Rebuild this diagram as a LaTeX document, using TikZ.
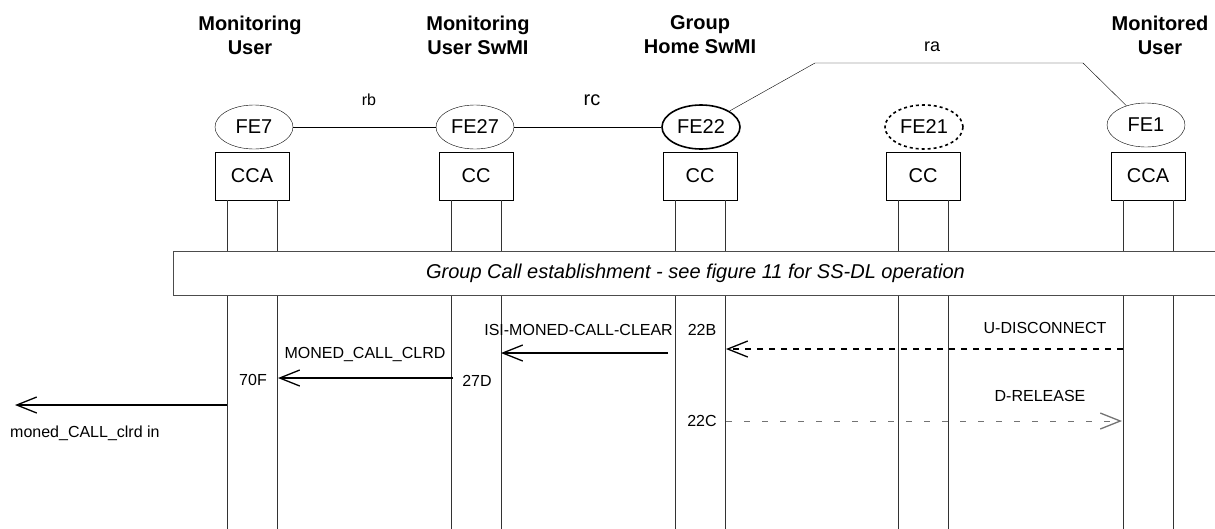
\documentclass[tikz,border=0pt]{standalone}
\usepackage{fontspec}
\setmainfont{Liberation Sans}
\usetikzlibrary{arrows.meta,shapes.geometric}

\tikzset{
	fe/.style={draw, ellipse, minimum width=78pt, minimum height=44pt, inner sep=0pt, font=\fontsize{20}{24}\selectfont},
	fa/.style={draw, minimum width=74pt, minimum height=48pt, inner sep=0pt, font=\fontsize{20}{24}\selectfont},
	head/.style={align=center, font=\bfseries\fontsize{20}{24}\selectfont},
	life/.style={draw=black!80, line width=0.9pt},
	msg/.style={line width=1.8pt, -{Straight Barb[length=20pt,width=16pt,line width=1.3pt]}},
	lbl/.style={inner sep=0pt, font=\fontsize{16}{19}\selectfont},
}

\begin{document}
\begin{tikzpicture}[x=1pt, y=-1pt]
		%%%%% START %%%%%
		\useasboundingbox (0,0) rectangle (1215,528);
		
		\node[head] (h7) at (250,35) {Monitoring\\User};
		\node[head] (h27) at (478,35) {Monitoring\\User SwMI};
		\node[head] (h22) at (700,35) {Group\\Home SwMI};
		\node[head] (h1) at (1160,35) {Monitored\\User};
		
		\node[fe] (fe7) at (254,127) {FE7};
		\node[fe] (fe27) at (475,127) {FE27};
		\node[fe, line width=1.6pt] (fe22) at (701,127) {FE22};
		\node[fe, dashed, line width=1.6pt] (fe21) at (924,127) {FE21};
		\node[fe] (fe1) at (1146,125) {FE1};
		
		\node[fa] (cc7) at (252,176) {CCA};
		\node[fa] (cc27) at (476,176) {CC};
		\node[fa] (cc22) at (700,176) {CC};
		\node[fa] (cc21) at (923,176) {CC};
		\node[fa] (cc1) at (1148,176) {CCA};
		
		% lifelines
		\foreach \fa in {cc7,cc27,cc22,cc21,cc1}{
			\draw[life] ([xshift=-25pt]\fa.south) -- ++(0,330);
			\draw[life] ([xshift=25pt]\fa.south) -- ++(0,330);
		}
		
		% reference points
		\draw (fe7) -- (fe27);
		\node[lbl] (rb) at (369,100) {rb};
		\draw (fe27) -- (fe22);
		\node[lbl, font=\fontsize{20}{24}\selectfont] (rc) at (592,100) {rc};
		\coordinate (ra1) at (815,63);
		\coordinate (ra2) at (1083,63);
		\draw (fe22) -- (ra1) -- (ra2) -- (fe1);
		\node[lbl, font=\fontsize{18}{22}\selectfont] (ra) at (932,47) {ra};
		
		\node[draw=black!70, fill=white, minimum width=1045pt, minimum height=44pt, font=\itshape\fontsize{20}{24}\selectfont] (gce) at (695.5,273) {Group Call establishment - see figure 11 for SS-DL operation};
		
		% messages
		\coordinate (u1) at (1123,349);
		\coordinate (u22) at (726,349);
		\draw[msg, dash pattern=on 6pt off 6pt] (u1) -- (u22);
		\node[lbl] (udisc) at (1045,328) {U-DISCONNECT};
		\node[lbl] (s22b) at (702,330) {22B};
		
		\coordinate (i22) at (668,353);
		\coordinate (i27) at (501,353);
		\draw[msg] (i22) -- (i27);
		\node[lbl, anchor=east] (isi) at (673,330) {ISI-MONED-CALL-CLEAR};
		
		\coordinate (m27) at (453,378);
		\coordinate (m7) at (278,378);
		\draw[msg] (m27) -- (m7);
		\node[lbl] (mcc) at (365,354) {MONED\_CALL\_CLRD};
		\node[lbl] (s70f) at (253,380) {70F};
		\node[lbl] (s27d) at (477,381) {27D};
		
		\coordinate (o7) at (227,405);
		\coordinate (out) at (15,405);
		\draw[msg] (o7) -- (out);
		\node[lbl, anchor=west] (mci) at (10,433) {moned\_CALL\_clrd in};
		
		\coordinate (d22) at (726,421);
		\coordinate (d1) at (1122,421);
		\draw[msg, line width=0.8pt, draw=black!55, dash pattern=on 6pt off 12pt] (d22) -- (d1);
		\node[lbl] (drel) at (1040,396) {D-RELEASE};
		\node[lbl] (s22c) at (702,421) {22C};
		
		%%%%% END %%%%%
	\end{tikzpicture}
\end{document}
